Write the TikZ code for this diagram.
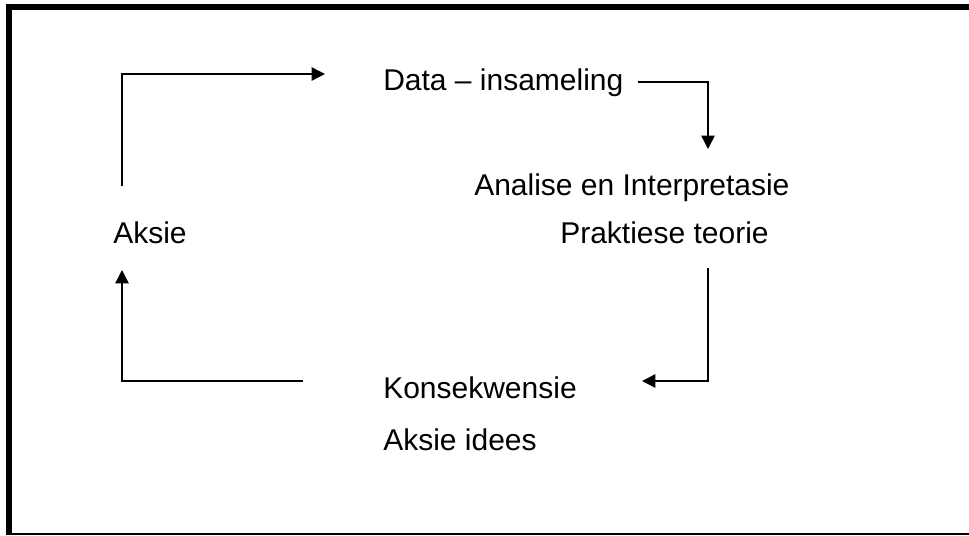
\documentclass[tikz,border=0pt]{standalone}
\usepackage{fontspec}
\setmainfont{Liberation Sans}
\usetikzlibrary{arrows.meta}

\begin{document}
\begin{tikzpicture}[x=0.75pt, y=-0.75pt,
    every node/.style={font=\fontsize{22.5}{27}\selectfont, inner sep=0pt, anchor=base west},
    flow/.style={line width=1.1pt, -{Triangle[length=10pt, width=10pt]}}]
  \useasboundingbox (0,0) rectangle (969,535);
  % frame
  \draw[line width=4.5pt] (9,535) -- (9,7) -- (969,7);
  \draw[line width=0.8pt] (12,534) -- (969,534);
  % texts
  \node (data) at (383,90) {Data – insameling};
  \node (analise) at (474,195) {Analise en Interpretasie};
  \node (praktiese) at (560,243) {Praktiese teorie};
  \node (aksie) at (113,243) {Aksie};
  \node (konsek) at (383,398) {Konsekwensie};
  \node (idees) at (383,450) {Aksie idees};
  % loose ends of the cycle
  \coordinate (aksieTop) at (122,186);
  \coordinate (dataIn) at (325,74);
  \coordinate (dataOut) at (638,82);
  \coordinate (analiseIn) at (708,149);
  \coordinate (praktOut) at (708,268);
  \coordinate (konsekIn) at (642,381);
  \coordinate (konsekOut) at (303,381);
  \coordinate (aksieBot) at (122,270);
  \draw[flow] (aksieTop) |- (dataIn);
  \draw[flow] (dataOut) -| (analiseIn);
  \draw[flow] (praktOut) |- (konsekIn);
  \draw[flow] (konsekOut) -| (aksieBot);
\end{tikzpicture}
\end{document}
